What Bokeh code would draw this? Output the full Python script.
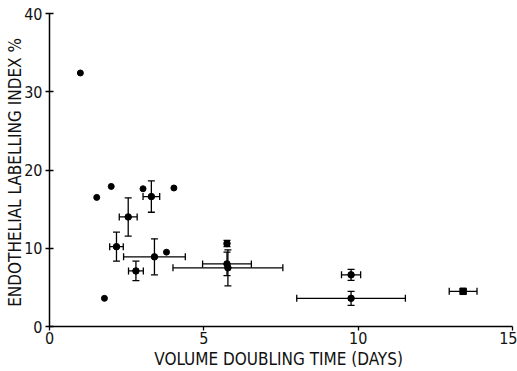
from bokeh.plotting import figure
from bokeh.models import ColumnDataSource, Whisker, TeeHead, Range1d, FixedTicker
from bokeh.embed import file_html
from bokeh.resources import INLINE

# plain points (no error bars)
plain_x = [1.0, 1.53, 2.0, 1.78, 3.03, 4.03, 3.79]
plain_y = [32.4, 16.5, 17.9, 3.6, 17.6, 17.7, 9.5]

# points with error bars
err_x = [2.17, 2.55, 2.8, 3.3, 3.4, 5.75, 5.75, 5.78, 9.77, 9.77, 13.4]
err_y = [10.2, 14.0, 7.1, 16.6, 8.9, 10.6, 8.0, 7.5, 6.6, 3.6, 4.5]
err_dx = [0.22, 0.29, 0.24, 0.27, 1.0, 0.0, 0.79, 1.78, 0.31, 1.76, 0.45]
err_dy = [1.85, 2.45, 1.25, 2.0, 2.3, 0.4, 1.5, 2.3, 0.7, 0.9, 0.0]
err_marker = ["circle"] * 10 + ["square"]

x_ticks = [0, 5, 10, 15]
y_ticks = [0, 10, 20, 30, 40]

FONT = "Liberation Sans Narrow, DejaVu Sans Condensed, sans-serif"

p = figure(width=517, height=371, output_backend="svg", toolbar_location=None,
           x_range=Range1d(0, 15), y_range=Range1d(0, 40),
           min_border_left=49, min_border_right=5, min_border_top=13, min_border_bottom=45)
p.outline_line_color = None
p.grid.visible = False
p.background_fill_color = "white"

for ax in (p.xaxis, p.yaxis):
    ax.axis_line_color = "black"
    ax.axis_line_width = 1.5
    ax.major_tick_line_color = "black"
    ax.major_tick_line_width = 1.3
    ax.minor_tick_line_color = None
    ax.major_label_text_font = FONT
    ax.major_label_text_font_size = "16px"
    ax.major_label_text_color = "#111111"
    ax.axis_label_text_font = FONT
    ax.axis_label_text_font_size = "17px"
    ax.axis_label_text_font_style = "normal"
    ax.axis_label_text_color = "#111111"

p.xaxis.ticker = FixedTicker(ticks=x_ticks)
p.yaxis.ticker = FixedTicker(ticks=y_ticks)
p.xaxis.major_tick_in = 0
p.xaxis.major_tick_out = 4
p.yaxis.major_tick_in = 4
p.yaxis.major_tick_out = 4
p.xaxis.major_label_standoff = 1
p.yaxis.major_label_standoff = 3
p.xaxis.axis_label = "VOLUME DOUBLING TIME  (DAYS)"
p.yaxis.axis_label = "ENDOTHELIAL LABELLING INDEX  %"
p.xaxis.axis_label_standoff = 2
p.yaxis.axis_label_standoff = -4

# horizontal error bars
hi = [i for i, d in enumerate(err_dx) if d > 0]
hsrc = ColumnDataSource(dict(
    y=[err_y[i] for i in hi],
    lo=[err_x[i] - err_dx[i] for i in hi],
    up=[err_x[i] + err_dx[i] for i in hi]))
p.add_layout(Whisker(source=hsrc, base="y", lower="lo", upper="up", dimension="width",
                     line_color="black", line_width=1.3,
                     lower_head=TeeHead(size=7, line_color="black", line_width=1.3),
                     upper_head=TeeHead(size=7, line_color="black", line_width=1.3)))

# vertical error bars
vi = [i for i, d in enumerate(err_dy) if d > 0]
vsrc = ColumnDataSource(dict(
    x=[err_x[i] for i in vi],
    lo=[err_y[i] - err_dy[i] for i in vi],
    up=[err_y[i] + err_dy[i] for i in vi]))
p.add_layout(Whisker(source=vsrc, base="x", lower="lo", upper="up", dimension="height",
                     line_color="black", line_width=1.3,
                     lower_head=TeeHead(size=7, line_color="black", line_width=1.3),
                     upper_head=TeeHead(size=7, line_color="black", line_width=1.3)))

p.scatter(plain_x, plain_y, size=6, marker="circle", color="black")
esrc = ColumnDataSource(dict(x=err_x, y=err_y, m=err_marker))
p.scatter("x", "y", source=esrc, size=6.5, marker="m", color="black")

open("out.html", "w").write(file_html(p, INLINE))
